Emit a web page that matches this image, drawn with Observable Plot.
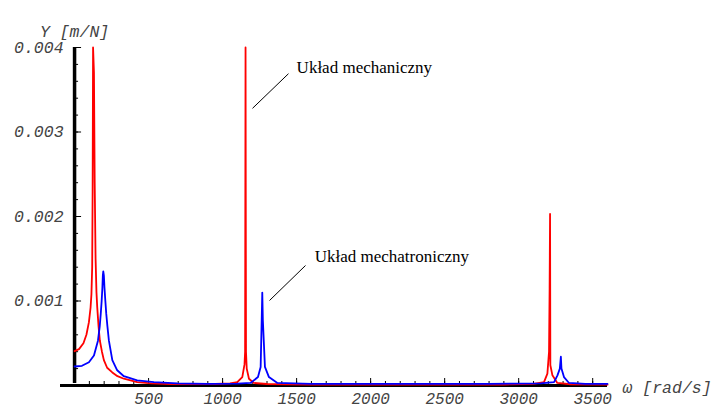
<!DOCTYPE html>
<html><head><meta charset="utf-8">
<script src="https://cdn.jsdelivr.net/npm/d3@7"></script>
<script src="https://cdn.jsdelivr.net/npm/@observablehq/plot@0.6"></script>
<style>html,body{margin:0;padding:0;background:#fff}</style>
</head><body><div id="chart"></div>
<script>
// Mechanical system (red): omega [rad/s] and Y [m/N]
const redOmega = [0, 30, 60, 80, 97, 108, 114, 119, 122, 125, 131, 136, 142, 148, 153, 162, 171, 185, 198, 220, 255, 290, 333, 423, 520, 650, 800, 950, 1050, 1099, 1133, 1148, 1152, 1155, 1158, 1163, 1178, 1211, 1300, 1600, 2000, 2500, 2900, 3100, 3171, 3194, 3205, 3209, 3212, 3214, 3228, 3261, 3350, 3600];
const redY = [0.000406, 0.00043, 0.0005, 0.0006, 0.00075, 0.00092, 0.00108, 0.0014, 0.0023, 0.0040, 0.0037, 0.0024, 0.0015, 0.0011, 0.00093, 0.0007, 0.00053, 0.0004, 0.0003, 0.00021, 0.000155, 0.00011, 0.00008, 0.00004, 0.000025, 0.000018, 0.000016, 0.000018, 0.000025, 0.00004, 0.0001, 0.00025, 0.0004, 0.004, 0.0004, 0.0002, 0.00008, 0.00003, 0.000018, 0.000012, 0.00001, 0.00001, 0.000012, 0.00002, 0.00004, 0.00014, 0.0004, 0.00115, 0.00203, 0.00024, 0.00012, 0.00003, 0.000015, 0.00001];

// Mechatronic system (blue)
const blueOmega = [0, 50, 97, 131, 158, 170, 177, 183, 188, 191, 194, 198, 202, 208, 214, 222, 232, 255, 288, 333, 423, 536, 694, 900, 1100, 1189, 1239, 1257, 1264, 1268, 1272, 1286, 1313, 1370, 1600, 2200, 2800, 3150, 3239, 3262, 3278, 3285, 3289, 3306, 3340, 3450, 3600];
const blueY = [0.000225, 0.000233, 0.000276, 0.000355, 0.00053, 0.0007, 0.00085, 0.001, 0.00116, 0.0013, 0.00135, 0.0013, 0.00116, 0.001, 0.00085, 0.0007, 0.00053, 0.0003, 0.00018, 0.00011, 0.00006, 0.00004, 0.000025, 0.00002, 0.000022, 0.00003, 0.0001, 0.00022, 0.00077, 0.0011, 0.00077, 0.00022, 0.0001, 0.00003, 0.00002, 0.00002, 0.00002, 0.000025, 0.00004, 0.00012, 0.0002, 0.00034, 0.0002, 0.0001, 0.00003, 0.00002, 0.00002];

const xMajorTicks = [500, 1000, 1500, 2000, 2500, 3000, 3500];
const xMinorTicks = d3.range(100, 3600, 100);
const yMajorTicks = [0.001, 0.002, 0.003, 0.004];
const yMinorTicks = d3.range(1, 21).map(i => i * 0.0002);
const yTickLabels = ["0.001", "0.002", "0.003", "0.004"];
const xTickLabels = ["500", "1000", "1500", "2000", "2500", "3000", "3500"];
const seriesLabels = ["Układ mechaniczny", "Układ mechatroniczny"];
const yAxisTitle = "Y [m/N]";
const xAxisTitle = "ω [rad/s]";

const red = redOmega.map((w, i) => ({w, v: redY[i]}));
const blue = blueOmega.map((w, i) => ({w, v: blueY[i]}));
const yLab = yMajorTicks.map((v, i) => ({v, t: yTickLabels[i]}));
const xLab = xMajorTicks.map((w, i) => ({w, t: xTickLabels[i]}));

const mono = {fontFamily: "Liberation Mono, DejaVu Sans Mono, monospace", fontStyle: "italic", fontSize: 16.5, fill: "#444"};
const serif = {fontFamily: "Liberation Serif, Times New Roman, serif", fontSize: 17, fill: "#000"};

const chart = Plot.plot({
  width: 720,
  height: 409,
  marginLeft: 60,
  marginRight: 113,
  marginTop: 47,
  marginBottom: 24,
  x: {domain: [-95, 3600], axis: null},
  y: {domain: [0, 0.004], axis: null},
  style: {background: "#fff", overflow: "visible"},
  marks: [
    // tick marks (pointing inward)
    Plot.ruleY(yMinorTicks, {y: d => d, x1: 0, x2: 0, insetRight: -4, stroke: "#000", strokeWidth: 1}),
    Plot.ruleY(yMajorTicks, {y: d => d, x1: 0, x2: 0, insetRight: -7, stroke: "#000", strokeWidth: 1}),
    Plot.ruleX(xMinorTicks, {x: d => d, y1: 0, y2: 0, insetTop: -4, stroke: "#000", strokeWidth: 1}),
    Plot.ruleX(xMajorTicks, {x: d => d, y1: 0, y2: 0, insetTop: -7, stroke: "#000", strokeWidth: 1}),
    // axis lines
    Plot.ruleX([0], {x: d => d, y1: 0, y2: 0.004, insetTop: -2, stroke: "#000", strokeWidth: 3.5}),
    Plot.ruleY([0], {y: d => d, stroke: "#000", strokeWidth: 3}),
    // tick labels
    Plot.text(yLab, {x: 0, y: "v", text: "t", textAnchor: "end", dx: -11, ...mono}),
    Plot.text(xLab, {x: "w", y: 0, text: "t", dy: 13, ...mono, fontSize: 16}),
    // axis titles
    Plot.text([yAxisTitle], {x: 0, frameAnchor: "top", dy: -22, text: d => d, ...mono}),
    Plot.text([xAxisTitle], {frameAnchor: "right", y: 0, dx: 15, dy: 2, textAnchor: "start", text: d => d, ...mono}),
    // curves
    Plot.line(red, {x: "w", y: "v", stroke: "#ff0000", strokeWidth: 1.8}),
    Plot.line(blue, {x: "w", y: "v", stroke: "#0000ff", strokeWidth: 1.8}),
    // annotations
    Plot.link([0], {x1: 1202, y1: 0.00328, x2: 1445, y2: 0.00369, stroke: "#000", strokeWidth: 1}),
    Plot.text([seriesLabels[0]], {x: 1500, y: 0.00376, text: d => d, textAnchor: "start", ...serif}),
    Plot.link([0], {x1: 1317, y1: 0.001006, x2: 1560, y2: 0.00142, stroke: "#000", strokeWidth: 1}),
    Plot.text([seriesLabels[1]], {x: 1622, y: 0.00153, text: d => d, textAnchor: "start", ...serif})
  ]
});
document.getElementById("chart").appendChild(chart);
</script>
</body></html>
